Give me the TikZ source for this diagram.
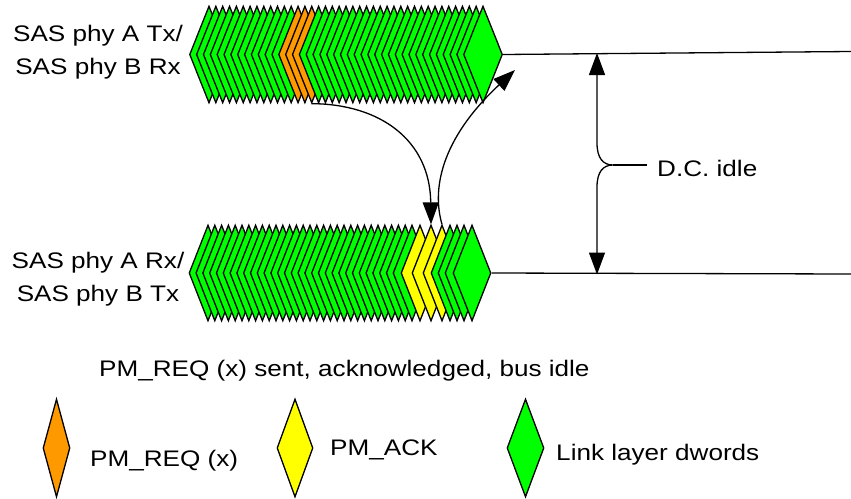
\documentclass[tikz,border=0pt]{standalone}
\usepackage{fontspec}
\setmainfont{Liberation Sans}
\usetikzlibrary{arrows.meta,shapes.geometric}
\definecolor{dgreen}{RGB}{0,255,0}
\definecolor{dorange}{RGB}{255,153,0}
\definecolor{dyellow}{RGB}{255,255,0}
\begin{document}
\begin{tikzpicture}[x=1pt,y=-1pt,
  dw/.style={diamond, draw=black, line width=1.3pt, inner sep=0pt,
    minimum width=39pt, minimum height=97pt, fill=dgreen},
  lbl/.style={font=\fontsize{22.5}{33}\selectfont, inner sep=0pt, xscale=1.16},
  conn/.style={line width=1.3pt},
  bigtip/.style={-{Triangle[length=22pt,width=16pt]}},
  dbltip/.style={{Triangle[length=22pt,width=16pt]}-{Triangle[length=22pt,width=16pt]}}]
\useasboundingbox (0,0) rectangle (851,498);

% labels
\node[lbl, align=center] (ltop) at (98,52.6) {SAS phy A Tx/\\SAS phy B Rx};
\node[lbl, align=center] (lbot) at (98,279) {SAS phy A Rx/\\SAS phy B Tx};

% top row of dwords
\foreach \k in {0,...,12} {\pgfmathsetmacro\cx{209+6.85*\k}\node[dw] (t\k) at (\cx,54.5) {};}
\foreach \k in {13,14,15} {\pgfmathsetmacro\cx{209+6.85*\k}\node[dw, fill=dorange] (t\k) at (\cx,54.5) {};}
\foreach \k in {16,...,40} {\pgfmathsetmacro\cx{209+6.85*\k}\node[dw] (t\k) at (\cx,54.5) {};}

% bottom row of dwords
\foreach \k in {0,...,30} {\pgfmathsetmacro\cx{208+6.8*\k}\node[dw, minimum width=38pt, minimum height=96pt] (b\k) at (\cx,273) {};}
\foreach \k/\x in {31/420,32/431,33/442} {\node[dw, fill=dyellow, minimum width=38pt, minimum height=96pt] (b\k) at (\x,273) {};}
\foreach \k/\x in {34/450,35/457,36/464,37/472} {\node[dw, minimum width=38pt, minimum height=96pt] (b\k) at (\x,273) {};}

% idle lines
\coordinate (topend) at (851,51.5);
\coordinate (botend) at (851,274);
\draw[conn] (t40.east) -- (topend);
\draw[conn] (b37.east) -- (botend);

% request / acknowledge arrows
\coordinate (ackend) at (515,70);
\draw[conn, bigtip] (t15.south) .. controls (380,104) and (430,140) .. (b32.north);
\draw[conn, bigtip] (b33.north) .. controls (432,190) and (440,140) .. (ackend);

% D.C. idle dimension with brace
\coordinate (dctop) at (597,53);
\coordinate (dcbot) at (597,274.5);
\coordinate (bracetip) at (613,165);
\coordinate (bracelbl) at (647,165);
\draw[conn, dbltip] (dctop) -- (597,143) .. controls (597,158) and (603,165) .. (bracetip)
   .. controls (603,165) and (597,172) .. (597,187) -- (dcbot);
\draw[conn] (bracetip) -- (bracelbl);
\node[lbl, anchor=base west] (dc) at (657,176) {D.C. idle};

% caption
\node[lbl, anchor=base west] (cap) at (99,376) {PM\_REQ (x) sent, acknowledged, bus idle};

% legend
\node[dw, fill=dorange, minimum width=27pt, minimum height=98pt] (lo) at (56.5,448) {};
\node[lbl, anchor=base west] (lot) at (90,466) {PM\_REQ (x)};
\node[dw, fill=dyellow, minimum width=36pt, minimum height=98pt] (ly) at (295,448) {};
\node[lbl, anchor=base west] (lyt) at (330,455) {PM\_ACK};
\node[dw, minimum width=37pt, minimum height=98pt] (lg) at (525.5,448) {};
\node[lbl, anchor=base west] (lgt) at (556,460) {Link layer dwords};
\end{tikzpicture}
\end{document}
